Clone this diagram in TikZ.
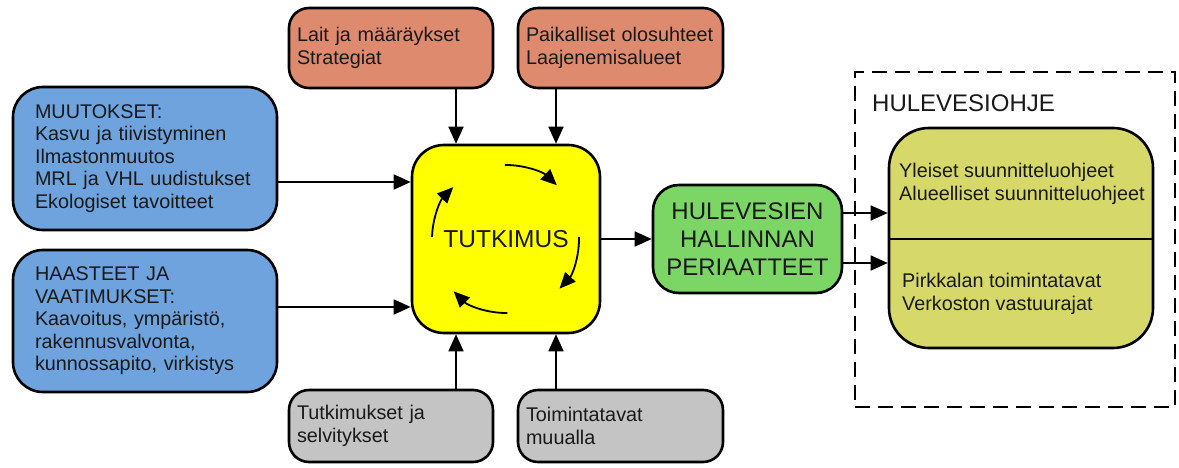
\documentclass[tikz,border=0pt]{standalone}
\usepackage{fontspec}
\setmainfont{Liberation Sans}
\usetikzlibrary{arrows.meta}
\definecolor{cblue}{HTML}{6FA3DE}
\definecolor{corange}{HTML}{DE8A6E}
\definecolor{cgray}{HTML}{C4C4C4}
\definecolor{cgreen}{HTML}{7CD665}
\definecolor{colive}{HTML}{D6D96A}
\definecolor{cyellow}{HTML}{FFFF00}
\newcommand\ftsmall{\fontsize{19.8}{22.5}\selectfont}
\newcommand\ftbig{\fontsize{24}{28}\selectfont}
\begin{document}
\begin{tikzpicture}[x=1pt,y=-1pt,
  box/.style={draw=black, line width=2.6pt, inner ysep=0pt, font=\ftsmall, text=black!90},
  leftbox/.style={box, align=left},
  arr/.style={line width=1.8pt, -{Triangle[length=17pt,width=15pt]}},
  cyc/.style={line width=1.8pt, -{Triangle[length=16pt,width=14pt]}},
  dashbox/.style={draw=black, line width=2pt, dash pattern=on 15pt off 8pt, inner sep=0pt}]
\useasboundingbox (0,0) rectangle (1179,468);

% left blue boxes
\node[leftbox, fill=cblue, rounded corners=30pt, minimum width=264pt, minimum height=143pt,
      text width=220pt, inner xsep=22pt] (blue1) at (145,158.5)
  {MUUTOKSET:\\Kasvu ja tiivistyminen\\Ilmastonmuutos\\MRL ja VHL uudistukset\\Ekologiset tavoitteet};
\node[leftbox, fill=cblue, rounded corners=30pt, minimum width=264pt, minimum height=142pt,
      text width=220pt, inner xsep=22pt] (blue2) at (145,321)
  {HAASTEET JA\\VAATIMUKSET:\\Kaavoitus, ympäristö,\\rakennusvalvonta,\\kunnossapito, virkistys};

% top orange boxes
\node[leftbox, fill=corange, rounded corners=20pt, minimum width=204pt, minimum height=80pt,
      text width=188pt, inner xsep=8pt] (or1) at (391,48)
  {Lait ja määräykset\\Strategiat};
\node[leftbox, fill=corange, rounded corners=20pt, minimum width=205pt, minimum height=80pt,
      text width=189pt, inner xsep=8pt] (or2) at (620.5,48)
  {Paikalliset olosuhteet\\Laajenemisalueet};

% bottom gray boxes
\node[leftbox, fill=cgray, rounded corners=20pt, minimum width=204pt, minimum height=72pt,
      text width=188pt, inner xsep=8pt] (gr1) at (391,426)
  {Tutkimukset ja\\selvitykset};
\node[leftbox, fill=cgray, rounded corners=20pt, minimum width=205pt, minimum height=72pt,
      text width=189pt, inner xsep=8pt] (gr2) at (620.5,426)
  {Toimintatavat\\muualla};

% central yellow box
\node[box, fill=cyellow, rounded corners=32pt, minimum width=188pt, minimum height=188pt,
      font=\fontsize{24.5}{28}\selectfont] (yellow) at (506,239) {TUTKIMUS};

% green box
\node[box, fill=cgreen, rounded corners=26pt, minimum width=189pt, minimum height=108pt,
      align=center, font=\ftbig, inner xsep=0pt] (green) at (747.5,239)
  {HULEVESIEN\\HALLINNAN\\PERIAATTEET};

% dashed frame
\node[dashbox, minimum width=320pt, minimum height=335pt] (frame) at (1015,239.5) {};
\node[anchor=base west, font=\ftbig, inner sep=0pt, text=black!90] (frametitle) at (872,112) {HULEVESIOHJE};

% olive box
\node[box, fill=colive, rounded corners=40pt, minimum width=264pt, minimum height=220pt] (olive) at (1021,238) {};
\coordinate (divl) at (889,239);
\coordinate (divr) at (1153,239);
\draw[line width=2.6pt] (divl) -- (divr);
\node[anchor=west, align=left, font=\ftsmall, inner sep=0pt, text=black!90] (olivetop) at (899,184)
  {Yleiset suunnitteluohjeet\\Alueelliset suunnitteluohjeet};
\node[anchor=west, align=left, font=\ftsmall, inner sep=0pt, text=black!90] (olivebot) at (902,294)
  {Pirkkalan toimintatavat\\Verkoston vastuurajat};

% connectors into yellow
\draw[arr] ([yshift=-23.5pt]blue1.east) -- ([yshift=-23.5pt]blue1.east -| yellow.west);
\draw[arr] ([yshift=14pt]blue2.east) -- ([yshift=14pt]blue2.east -| yellow.west);
\draw[arr] ([xshift=65pt]or1.south) -- ([xshift=65pt]or1.south |- yellow.north);
\draw[arr] ([xshift=-64.5pt]or2.south) -- ([xshift=-64.5pt]or2.south |- yellow.north);
\draw[arr] ([xshift=65pt]gr1.north) -- ([xshift=65pt]gr1.north |- yellow.south);
\draw[arr] ([xshift=-64.5pt]gr2.north) -- ([xshift=-64.5pt]gr2.north |- yellow.south);

% yellow to green, green to olive
\draw[arr] (yellow.east) -- (green.west);
\draw[arr] ([yshift=26pt]green.east) -- ([yshift=26pt]green.east -| olive.west);
\draw[arr] ([yshift=-24pt]green.east) -- ([yshift=-24pt]green.east -| olive.west);

% cycle arrows inside yellow
\draw[cyc] (yellow.center) ++(-90.8:74) arc[start angle=-90.8, end angle=-46.6, radius=74];
\draw[cyc] (yellow.center) ++(-1.6:73) arc[start angle=-1.6, end angle=42.8, radius=73];
\draw[cyc] (yellow.center) ++(89:74) arc[start angle=89, end angle=135, radius=74];
\draw[cyc] (yellow.center) ++(-178.5:74) arc[start angle=-178.5, end angle=-135.5, radius=74];
\end{tikzpicture}
\end{document}
